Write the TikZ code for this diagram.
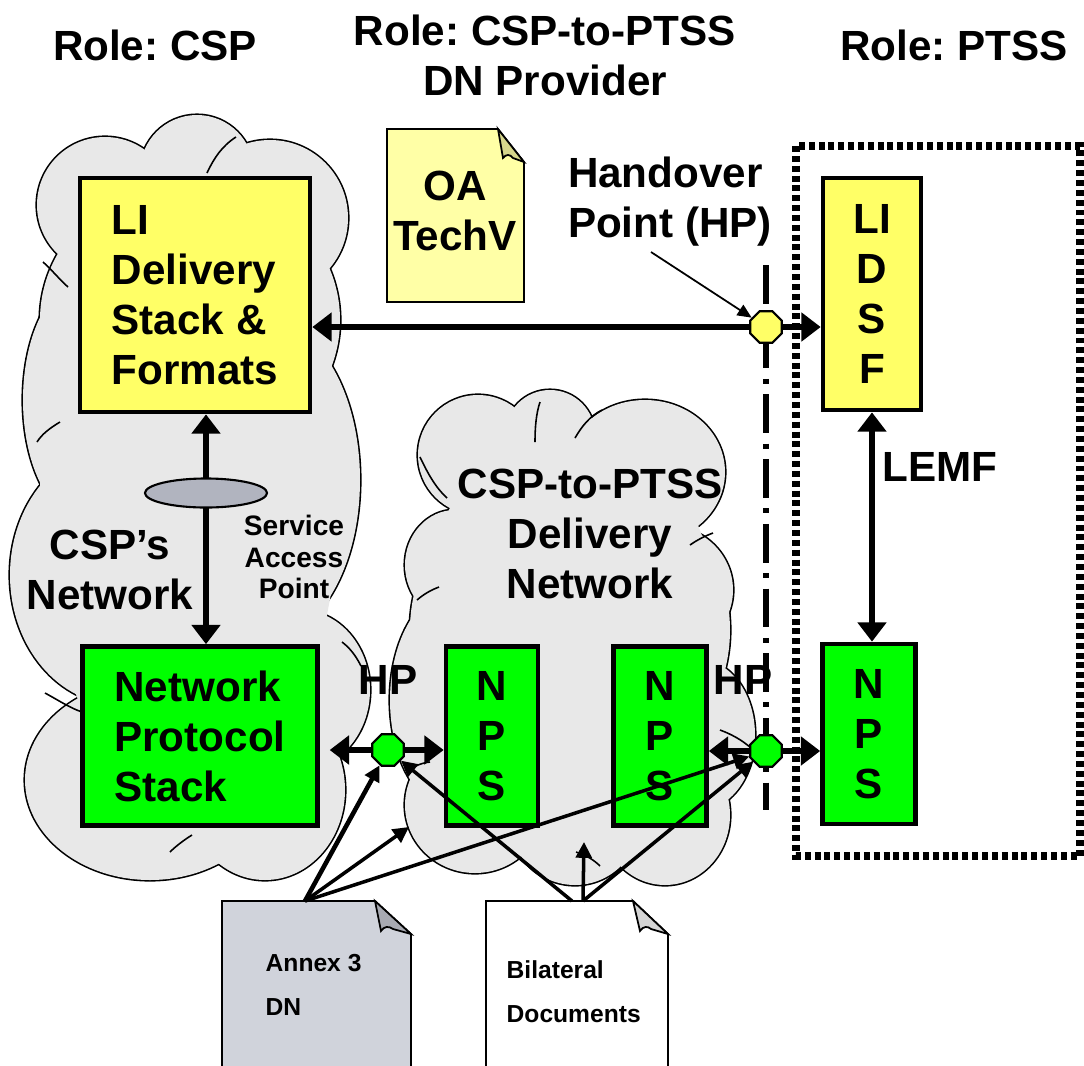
\documentclass[tikz,border=0pt]{standalone}
\usepackage{fontspec}
\setmainfont{Liberation Sans}
\frenchspacing
\usetikzlibrary{arrows.meta,shapes.geometric}

\definecolor{cloudgray}{HTML}{E8E8E8}
\definecolor{liyellow}{HTML}{FFFF66}
\definecolor{npsgreen}{HTML}{00FF00}
\definecolor{sapgray}{HTML}{B1B4BF}
\definecolor{oayellow}{HTML}{FFFFA6}
\definecolor{oafold}{HTML}{D6D68C}
\definecolor{annexgray}{HTML}{D0D3DB}
\definecolor{annexfold}{HTML}{A8AAB2}
\definecolor{bilfold}{HTML}{D4D4D4}

\begin{document}
\begin{tikzpicture}[x=0.01cm,y=-0.01cm,
        every node/.style={font=\bfseries\fontsize{12}{14.2}\selectfont},
        box/.style={draw,line width=1.3pt,inner sep=0pt,align=center},
        hp/.style={draw,regular polygon,regular polygon sides=8,minimum size=0.34cm,inner sep=0pt,line width=0.6pt},
        bigarrow/.style={line width=1.7pt,>={Triangle[length=5.5pt,width=8pt]},<->},
        docarrow/.style={line width=1pt,-{Triangle[length=4.5pt,width=4.5pt]}},
        crease/.style={line width=0.45pt}]
        \useasboundingbox (0,0) rectangle (1084,1066);

        % Clouds (lobes: x/y/x radius/y radius)
        \def\csplobes{105/205/68/68, 197/172/57/57, 270/218/78/78, 190/320/150/140,
            265/480/95/160, 85/400/62/120, 120/575/110/130, 150/780/125/100,
            265/790/80/90, 300/690/70/80, 200/650/120/120}
        \def\dnlobes{478/455/60/60, 550/435/45/45, 645/472/80/72, 665/590/68/65,
            570/630/160/160, 455/700/65/110, 700/735/55/75, 475/805/70/68,
            575/820/65/65, 665/815/65/70, 455/565/50/55}
        \foreach \cx/\cy/\rx/\ry in \csplobes
            \draw[line width=0.9pt] (\cx,\cy) ellipse [x radius=\rx, y radius=\ry];
        \foreach \cx/\cy/\rx/\ry in \csplobes
            \fill[cloudgray] (\cx,\cy) ellipse [x radius=\rx, y radius=\ry];
        \fill[cloudgray] (190,480) ellipse [x radius=150, y radius=330];
        \foreach \cx/\cy/\rx/\ry in \dnlobes
            \draw[line width=0.9pt] (\cx,\cy) ellipse [x radius=\rx, y radius=\ry];
        \foreach \cx/\cy/\rx/\ry in \dnlobes
            \fill[cloudgray] (\cx,\cy) ellipse [x radius=\rx, y radius=\ry];
        \fill[cloudgray] (570,640) ellipse [x radius=150, y radius=220];
        % creases inside the clouds
        \draw[crease] (207,173) .. controls (214,158) and (222,146) .. (236,137);
        \draw[crease] (158,178) .. controls (160,190) and (160,198) .. (158,205);
        \draw[crease] (43,262) .. controls (52,270) and (60,280) .. (68,287);
        \draw[crease] (60,422) .. controls (50,428) and (42,434) .. (37,442);
        \draw[crease] (342,642) .. controls (350,648) and (356,656) .. (361,666);
        \draw[crease] (192,835) .. controls (184,840) and (176,846) .. (170,852);
        \draw[crease] (45,693) .. controls (58,700) and (70,708) .. (82,712);
        \draw[crease] (540,402) .. controls (536,414) and (535,428) .. (535,442);
        \draw[crease] (575,438) .. controls (582,426) and (590,416) .. (602,410);
        \draw[crease] (420,457) .. controls (428,474) and (436,488) .. (447,498);
        \draw[crease] (690,545) .. controls (697,540) and (705,536) .. (713,533);
        \draw[crease] (439,587) .. controls (431,590) and (424,594) .. (417,600);
        \draw[crease] (408,772) .. controls (414,766) and (421,763) .. (430,762);
        \draw[crease] (600,866) .. controls (594,860) and (586,855) .. (576,852);
        \draw[crease] (720,730) .. controls (731,734) and (742,740) .. (751,748);

        % PTSS area
        \draw[line width=2pt,dash pattern=on 1.7pt off 1.1pt] (796,146) rectangle (1080,856);

        % Role titles
        \node (RC) at (155,45) {Role: CSP};
        \node[align=center] (RD) at (545,55) {Role: CSP-to-PTSS\\DN Provider};
        \node (RP) at (954,45) {Role: PTSS};

        % Boxes
        \node[box,fill=liyellow,minimum width=2.3cm,minimum height=2.34cm,align=left] (DS) at (195,295) {LI\\Delivery\\Stack \&\\Formats};
        \node[box,fill=liyellow,minimum width=0.98cm,minimum height=2.32cm] (LD) at (872,294) {LI\\D\\S\\F};
        \node[box,fill=npsgreen,minimum width=2.35cm,minimum height=1.79cm,align=left] (NS) at (200,736) {Network\\Protocol\\Stack};
        \node[box,fill=npsgreen,minimum width=0.92cm,minimum height=1.79cm] (N1) at (492,736) {N\\P\\S};
        \node[box,fill=npsgreen,minimum width=0.93cm,minimum height=1.79cm] (N2) at (660,736) {N\\P\\S};
        \node[box,fill=npsgreen,minimum width=0.93cm,minimum height=1.80cm] (N3) at (869,734) {N\\P\\S};

        % Handover points
        \coordinate (P0) at (766,327);
        \coordinate (P1) at (388,750);
        \coordinate (P2) at (766,751);
        \coordinate (HPtop) at (766,265);
        \coordinate (HPbot) at (766,810);
        \draw[line width=1.5pt,dash pattern=on 11pt off 3pt on 1.4pt off 3pt] (HPtop) -- (HPbot);

        % Delivery links
        \coordinate (SAPc) at (206,493);
        \draw[bigarrow] (DS.east |- P0) -- (LD.west |- P0);
        \draw[bigarrow] (DS.south -| SAPc) -- (NS.north -| SAPc);
        \draw[bigarrow] (LD.south) -- (LD.south |- N3.north);
        \draw[bigarrow,shorten <=2.8pt] (NS.east |- P1) -- (N1.west |- P1);
        \draw[bigarrow] (N2.east |- P2) -- (N3.west |- P2);
        \node[draw,ellipse,fill=sapgray,minimum width=1.22cm,minimum height=0.29cm,inner sep=0pt,line width=0.6pt] (SAP) at (SAPc) {};
        \node[hp,fill=liyellow] (H0) at (P0) {};
        \node[hp,fill=npsgreen] (H1) at (P1) {};
        \node[hp,fill=npsgreen] (H2) at (P2) {};

        % Labels
        \node[align=center] (CN) at (110,570) {CSP’s\\Network};
        \node[align=center,font=\bfseries\fontsize{8}{9}\selectfont] (ST) at (294,557) {Service\\Access\\Point};
        \node[align=center] (DN) at (590,534) {CSP-to-PTSS\\Delivery\\Network};
        \node[align=left] (HT) at (670,202) {Handover\\Point (HP)};
        \node (LE) at (940,467) {LEMF};
        \node (HL) at (388,680) {HP};
        \node (HR) at (743,680) {HP};
        \coordinate (HA) at (651,252);
        \draw[line width=0.5pt,-{Triangle[length=4pt,width=3.5pt]}] (HA) -- (H0);

        % Documents
        \filldraw[fill=oayellow,line width=0.5pt] (387,129) -- (498,129) -- (524,162) -- (524,302) -- (387,302) -- cycle;
        \filldraw[fill=oafold,line width=0.5pt] (498,129) -- (503,158) .. controls (506,154) and (510,154) .. (513,158) -- (524,162) -- cycle;
        \node[align=center] (OA) at (455,211) {OA\\TechV};

        \fill[annexgray] (222,1066) -- (222,901) -- (375,901) -- (411,934) -- (411,1066) -- cycle;
        \draw[line width=0.5pt] (222,1066) -- (222,901) -- (375,901) -- (411,934) -- (411,1066);
        \filldraw[fill=annexfold,line width=0.5pt] (375,901) -- (381,931) .. controls (384,926) and (389,926) .. (393,929) -- (411,934) -- cycle;
        \node[align=left,anchor=west,inner sep=0pt,font=\bfseries\fontsize{7}{12.6}\selectfont] (AX) at (265,985) {Annex 3\\DN};

        \fill[white] (486,1066) -- (486,901) -- (633,901) -- (668,934) -- (668,1066) -- cycle;
        \draw[line width=0.5pt] (486,1066) -- (486,901) -- (633,901) -- (668,934) -- (668,1066);
        \filldraw[fill=bilfold,line width=0.5pt] (633,901) -- (640,931) .. controls (643,926) and (648,926) .. (651,929) -- (668,934) -- cycle;
        \node[align=left,anchor=west,inner sep=0pt,font=\bfseries\fontsize{7}{12.6}\selectfont] (BD) at (506,992) {Bilateral\\Documents};

        % Document references
        \coordinate (A) at (305,901);
        \coordinate (B1) at (572,901);
        \coordinate (B2) at (583,901);
        \coordinate (C1) at (409,827);
        \coordinate (C2) at (584,842);
        \draw[docarrow,line width=1.3pt] (A) -- (H1);
        \draw[docarrow] (A) -- (C1);
        \draw[docarrow] (A) -- (H2);
        \draw[docarrow] (B1) -- (H1);
        \draw[docarrow] (B2) -- (C2);
        \draw[docarrow] (B2) -- (H2);
    \end{tikzpicture}
\end{document}
